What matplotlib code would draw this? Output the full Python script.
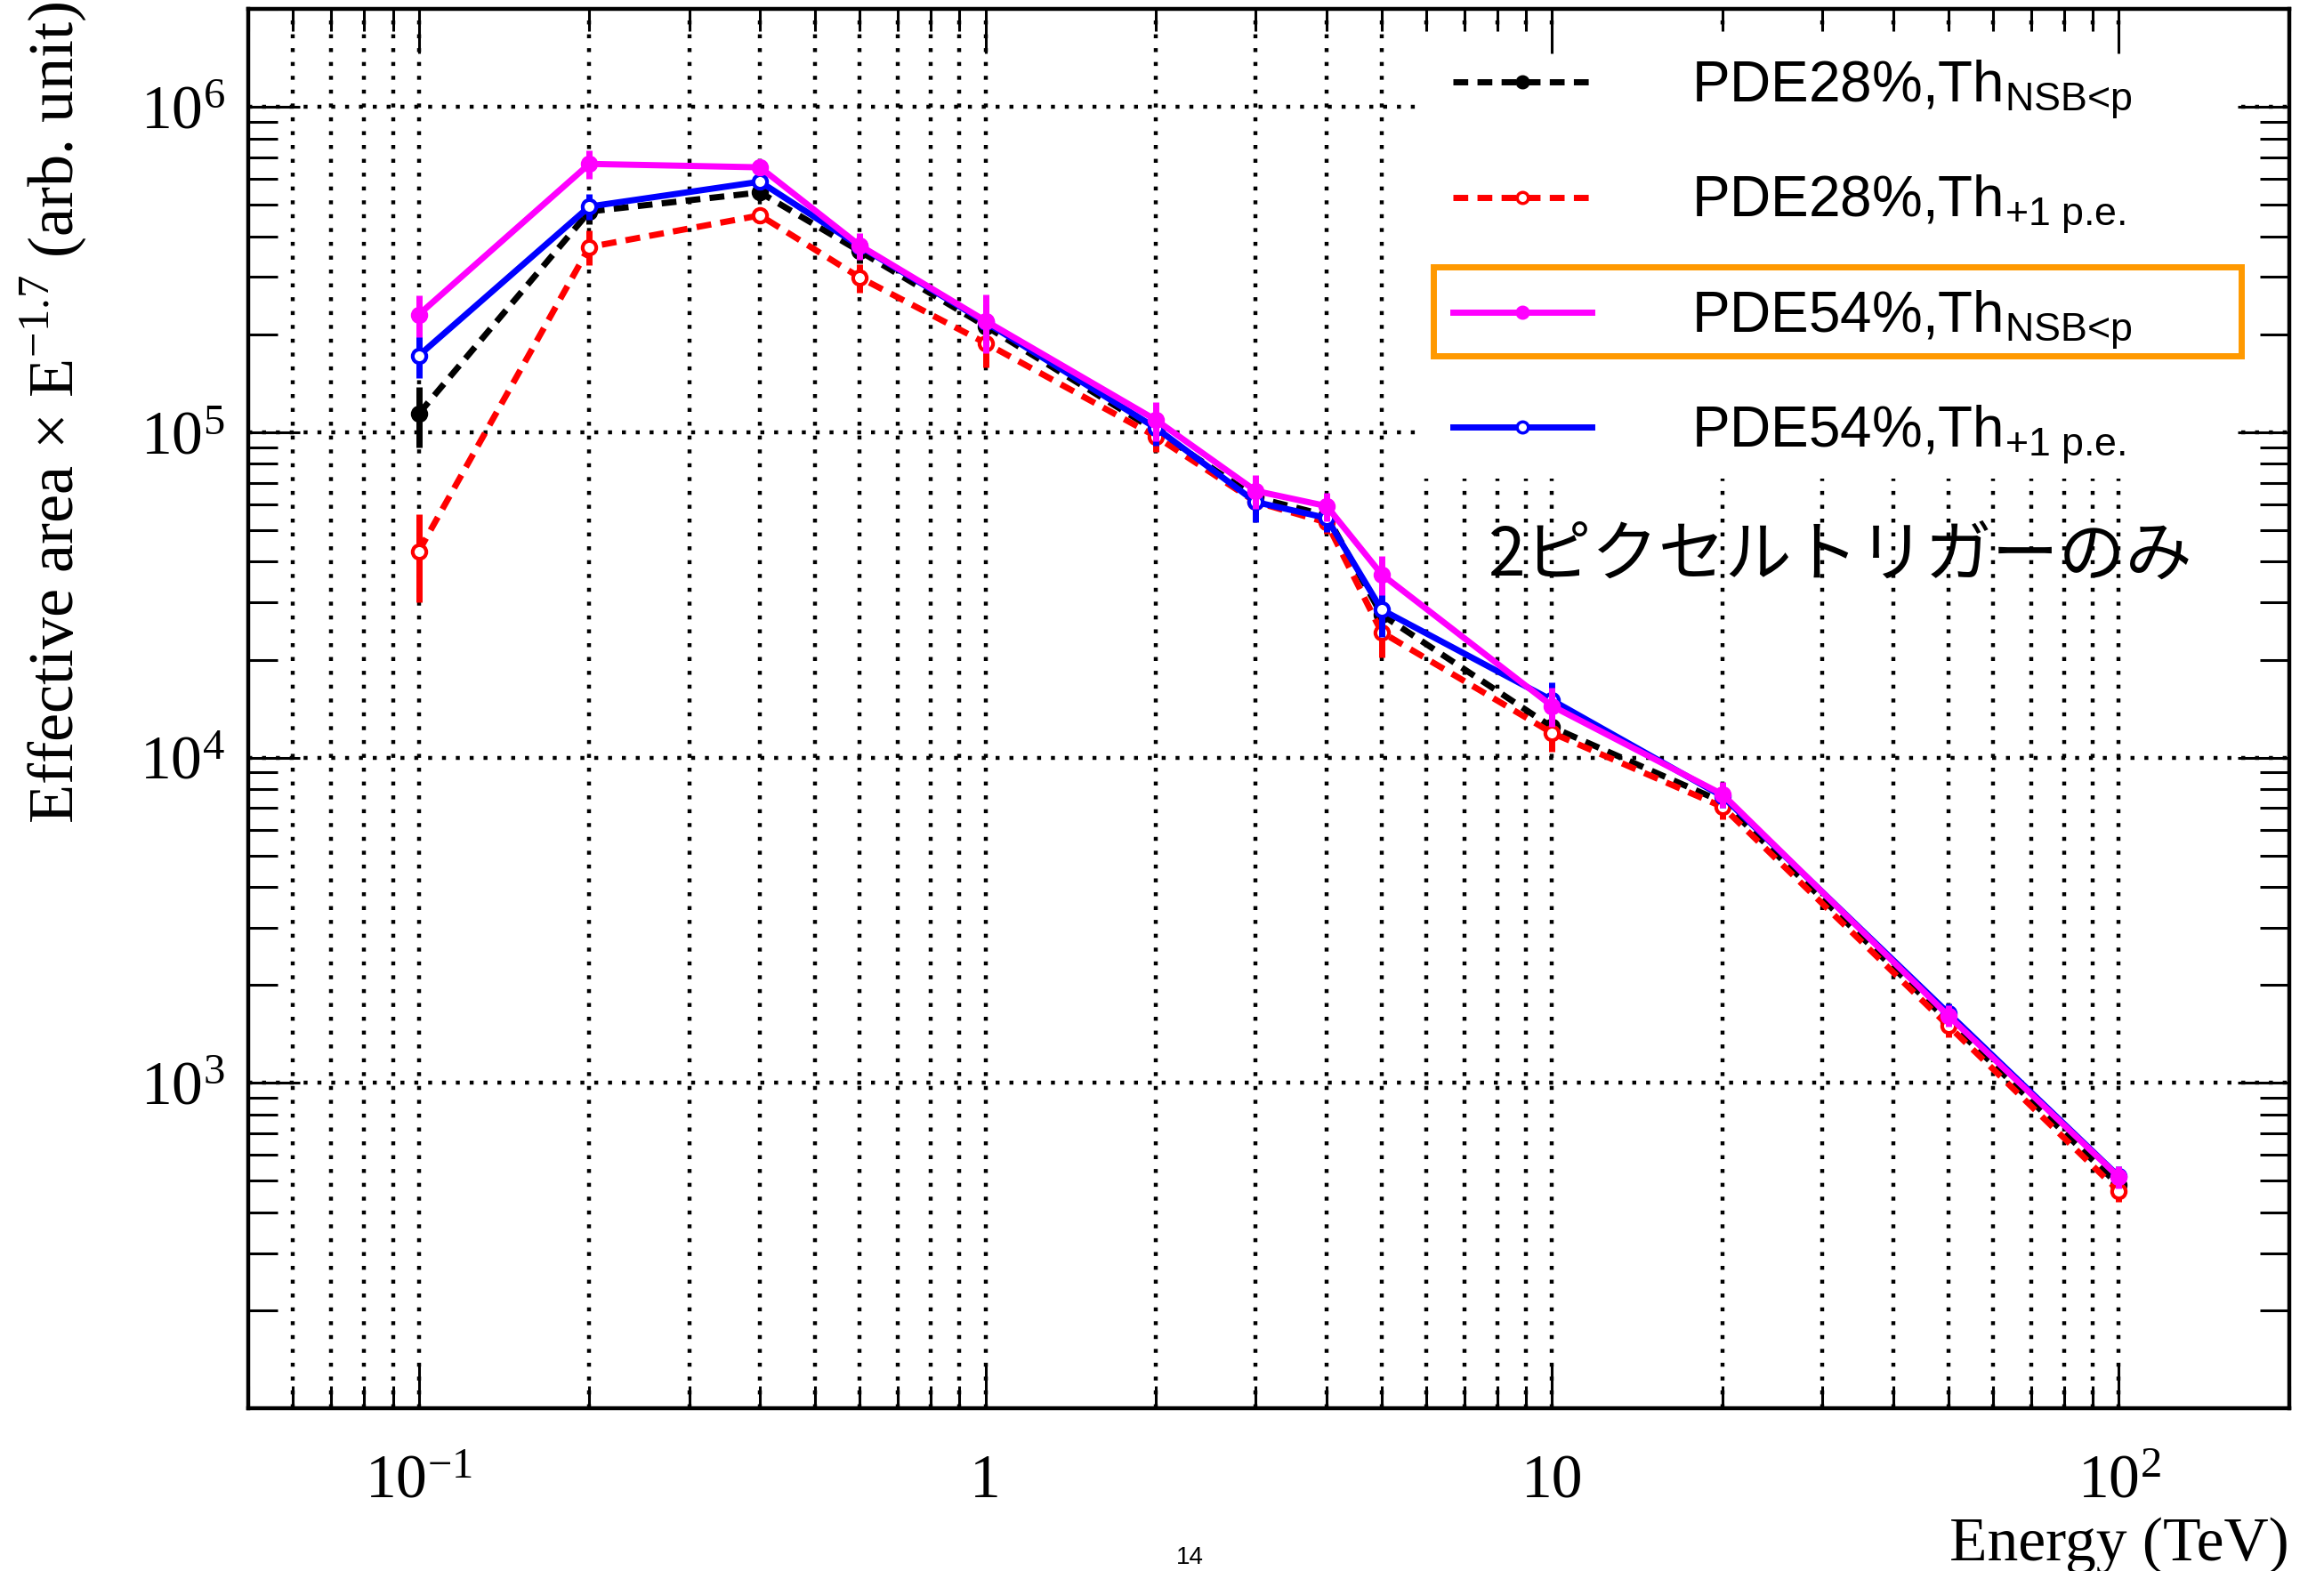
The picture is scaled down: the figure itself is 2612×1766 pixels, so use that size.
import matplotlib
matplotlib.use("Agg")

import matplotlib.pyplot as plt
import numpy as np
from matplotlib.lines import Line2D
from matplotlib.patches import Rectangle
from matplotlib.ticker import FixedLocator, FixedFormatter, LogLocator, NullFormatter

# \text{} inside mathtext uses this font (legend subscripts)
plt.rcParams["mathtext.fontset"] = "custom"
plt.rcParams["mathtext.rm"] = "Liberation Sans"

# energy bins (TeV)
energy = [0.1, 0.2, 0.4, 0.6, 1, 2, 3, 4, 5, 10, 20, 50, 100]

# effective area x E^-1.7 (arb. unit)
pde28_nsb = [1.14e5, 4.77e5, 5.46e5, 3.60e5, 2.12e5, 1.01e5, 6.3e4, 5.55e4, 2.75e4, 1.24e4, 7.3e3, 1.55e3, 485]
pde28_nsb_err = [2.4e4, 4.0e4, 3.0e4, 3.0e4, 2.5e4, 1.0e4, 5e3, 4e3, 3e3, 1.2e3, 500, 100, 30]
pde28_pe = [4.31e4, 3.71e5, 4.64e5, 2.99e5, 1.88e5, 9.7e4, 6.1e4, 5.28e4, 2.43e4, 1.19e4, 7.05e3, 1.50e3, 465]
pde28_pe_err = [1.3e4, 4.5e4, 2.5e4, 3.0e4, 3.0e4, 1.0e4, 5e3, 4e3, 4e3, 1.5e3, 600, 120, 35]
pde54_pe = [1.72e5, 4.94e5, 5.89e5, 3.73e5, 2.18e5, 1.03e5, 6.1e4, 5.45e4, 2.85e4, 1.50e4, 7.6e3, 1.64e3, 516]
pde54_pe_err = [2.5e4, 4.5e4, 3.0e4, 3.0e4, 3.0e4, 1.2e4, 8e3, 5e3, 5e3, 2e3, 600, 120, 40]
pde54_nsb = [2.30e5, 6.68e5, 6.52e5, 3.75e5, 2.20e5, 1.09e5, 6.6e4, 5.93e4, 3.66e4, 1.44e4, 7.7e3, 1.61e3, 514]
pde54_nsb_err = [3.4e4, 6.5e4, 3.0e4, 3.5e4, 4.5e4, 1.5e4, 8e3, 6e3, 5e3, 2e3, 700, 120, 40]

labels = [
    r"PDE28%,Th$_{\text{NSB<p}}$",
    r"PDE28%,Th$_{\text{+1 p.e.}}$",
    r"PDE54%,Th$_{\text{NSB<p}}$",
    r"PDE54%,Th$_{\text{+1 p.e.}}$",
]

x_ticks = [0.1, 1, 10, 100]
x_tick_labels = [r"$\mathregular{10^{-1}}$", "1", "10", r"$\mathregular{10^{2}}$"]
y_ticks = [1e3, 1e4, 1e5, 1e6]
y_tick_labels = [r"$\mathregular{10^{3}}$", r"$\mathregular{10^{4}}$",
                 r"$\mathregular{10^{5}}$", r"$\mathregular{10^{6}}$"]

dash = (0, (2.4, 1.5))
# draw order: black, red, blue, magenta (magenta on top)
series = [
    (pde28_nsb, pde28_nsb_err, "black", dash, "black", 0),
    (pde28_pe, pde28_pe_err, "red", dash, "white", 1),
    (pde54_pe, pde54_pe_err, "blue", "-", "white", 3),
    (pde54_nsb, pde54_nsb_err, "magenta", "-", "magenta", 2),
]

fig = plt.figure(figsize=(26.12, 17.66), dpi=100)
ax = fig.add_axes([0.1068, 0.1036, 0.8783, 0.8907])
ax.set_xscale("log")
ax.set_yscale("log")
ax.set_xlim(0.05, 200)
ax.set_ylim(100, 2e6)

# dotted grid: every x tick (major + minor), only major y
grid_ls = (0, (1, 2.5))
x_grid = [v for v in LogLocator(base=10, subs=np.arange(1, 10)).tick_values(0.05, 200) if 0.051 < v < 199]
for v in x_grid:
    ax.axvline(v, color="black", ls=grid_ls, lw=3.2, zorder=1)
for v in y_ticks:
    ax.axhline(v, color="black", ls=grid_ls, lw=3.2, zorder=1)

for k, (vals, errs, col, ls, mfc, _) in enumerate(series):
    z = 2 + 0.1 * k
    ax.plot(energy, vals, color=col, ls=ls, lw=5, zorder=z)
    ax.errorbar(energy, vals, yerr=errs, fmt="none", ecolor=col, elinewidth=5, capsize=0, zorder=z)
    ax.plot(energy, vals, ls="none", marker="o", ms=11, mfc=mfc, mec=col, mew=3, zorder=z + 0.05)

# white legend area hides the grid
ax.add_patch(Rectangle((0.575, 0.6643), 0.4015, 0.3187, transform=ax.transAxes,
                       facecolor="white", edgecolor="none", zorder=1.2))

handles = []
order = sorted(series, key=lambda s: s[5])
for vals, errs, col, ls, mfc, _ in order:
    handles.append(Line2D([], [], color=col, ls=ls, lw=5, marker="o", ms=9, mfc=mfc, mec=col, mew=2.5))
leg = ax.legend(handles, labels, loc="center left", bbox_to_anchor=(0.5902, 0.819),
                frameon=False, prop={"family": "Liberation Sans", "size": 46},
                handlelength=2.45, handletextpad=1.75, labelspacing=0.92,
                borderpad=0, borderaxespad=0, numpoints=1)
leg.set_zorder(5)

ax.add_patch(Rectangle((0.5807, 0.7521), 0.3958, 0.0635, transform=ax.transAxes,
                       fill=False, edgecolor="#ff9900", lw=5, zorder=6))

ax.text(0.6072, 0.609, "2ピクセルトリガーのみ", transform=ax.transAxes, fontsize=54,
        family=["Noto Sans CJK JP", "DejaVu Sans"], va="center", ha="left", zorder=6)

# ticks
ax.xaxis.set_major_locator(FixedLocator(x_ticks))
ax.xaxis.set_major_formatter(FixedFormatter(x_tick_labels))
ax.xaxis.set_minor_locator(LogLocator(base=10, subs=np.arange(2, 10), numticks=50))
ax.xaxis.set_minor_formatter(NullFormatter())
ax.yaxis.set_major_locator(FixedLocator(y_ticks))
ax.yaxis.set_major_formatter(FixedFormatter(y_tick_labels))
ax.yaxis.set_minor_locator(LogLocator(base=10, subs=np.arange(2, 10), numticks=50))
ax.yaxis.set_minor_formatter(NullFormatter())

ax.tick_params(which="both", direction="in", top=True, right=True, width=2.2, color="black",
               labelfontfamily="Liberation Serif")
ax.tick_params(axis="x", which="major", length=36, pad=72, labelsize=50)
ax.tick_params(axis="x", which="minor", length=18)
ax.tick_params(axis="y", which="major", length=42, pad=19, labelsize=50)
ax.tick_params(axis="y", which="minor", length=24)
plt.setp(ax.get_xticklabels(), va="baseline")

for s in ax.spines.values():
    s.set_linewidth(3.2)

ax.set_xlabel("Energy (TeV)", family="Liberation Serif", fontsize=50, loc="right")
ax.xaxis.set_label_coords(1.0, -0.0775)
ax.set_ylabel(r"Effective area × E$^{\mathregular{-1.7}}$ (arb. unit)",
              family="Liberation Serif", fontsize=52, loc="top")
ax.yaxis.set_label_coords(-0.078, 1.005)

# page number at the bottom edge
fig.text(0.512, 0.001, "14", ha="center", va="bottom", fontsize=20, family="Liberation Sans")

fig.savefig("out.png", dpi=100)
